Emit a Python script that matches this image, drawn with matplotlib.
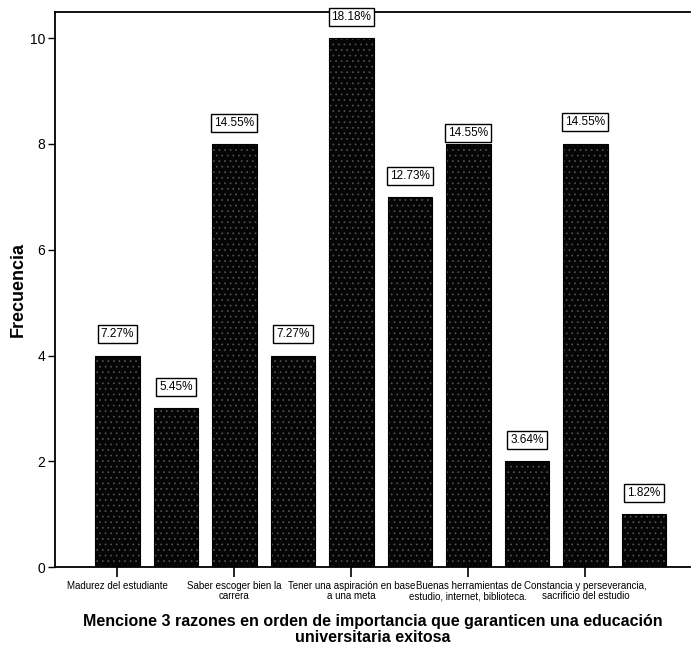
import numpy as np
import matplotlib
matplotlib.use("Agg")
import matplotlib.pyplot as plt

plt.rcParams['font.family'] = ['Liberation Sans', 'DejaVu Sans']
plt.rcParams['hatch.linewidth'] = 0.5

frecuencia = [4, 3, 8, 4, 10, 7, 8, 2, 8, 1]
porcentajes = ['7.27%', '5.45%', '14.55%', '7.27%', '18.18%',
               '12.73%', '14.55%', '3.64%', '14.55%', '1.82%']
tick_idx = [0, 2, 4, 6, 8]
tick_labels = ['Madurez del estudiante',
               'Saber escoger bien la\ncarrera',
               'Tener una aspiración en base\na una meta',
               'Buenas herramientas de\nestudio, internet, biblioteca.',
               'Constancia y perseverancia,\nsacrificio del estudio']
# label offsets above bar (one label nudged down to avoid overlap)
label_off = [0.4, 0.4, 0.4, 0.4, 0.4, 0.4, 0.2, 0.4, 0.42, 0.4]

fig = plt.figure(figsize=(6.95, 6.49), dpi=100)
ax = fig.add_axes([0.079, 0.126, 0.914, 0.856])

x = np.arange(len(frecuencia))
ax.bar(x, frecuencia, width=0.76, color='#050505', edgecolor='#555555',
       linewidth=0, hatch='...', zorder=2)
ax.bar(x, frecuencia, width=0.76, color='none', edgecolor='black',
       linewidth=0.8, zorder=3)

for xi, v, txt, off in zip(x, frecuencia, porcentajes, label_off):
    ax.text(xi, v + off, txt, ha='center', va='center', fontsize=8.5,
            bbox=dict(boxstyle='square,pad=0.25', facecolor='white',
                      edgecolor='black', linewidth=1.0), zorder=4)

ax.set_xlim(-1.07, 9.79)
ax.set_ylim(0, 10.5)
ax.set_yticks([0, 2, 4, 6, 8, 10])
ax.set_xticks(tick_idx)
ax.set_xticklabels(tick_labels, fontsize=7, linespacing=1.0)
ax.tick_params(axis='x', length=7, width=1.2, pad=3)
ax.tick_params(axis='y', length=5, width=1.0, labelsize=10, pad=2)

for s in ['left', 'top', 'bottom']:
    ax.spines[s].set_linewidth(1.3)
ax.spines['right'].set_visible(False)

ax.set_ylabel('Frecuencia', fontsize=13, fontweight='bold', labelpad=2)
ax.set_xlabel('Mencione 3 razones en orden de importancia que garanticen una educación\nuniversitaria exitosa',
              fontsize=11.5, fontweight='bold', linespacing=1.1, labelpad=9)

fig.savefig('out.png', dpi=100)
